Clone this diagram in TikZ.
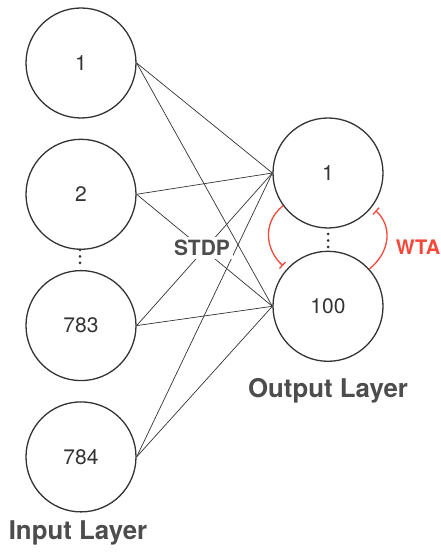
\documentclass[tikz,border=0pt]{standalone}
\usepackage{fontspec}
\setmainfont{TeX Gyre Heros}
\usetikzlibrary{arrows.meta,positioning}
\definecolor{wtared}{RGB}{245,72,58}
\definecolor{inkgray}{RGB}{77,77,77}
\tikzset{neuron/.style={draw=black!80, circle, line width=1.3pt, minimum size=110pt, inner sep=0pt, text=black!80, font=\fontsize{21}{24}\selectfont}}
\tikzset{layer label/.style={text=inkgray, font=\fontsize{25.8}{30}\selectfont\bfseries}}
\tikzset{synapse/.style={draw=black!80, line width=0.7pt}}
\tikzset{inhibit/.style={draw=wtared, line width=1.3pt, shorten >=5pt, -{Bar[width=9pt, line width=1.3pt]}}}

\begin{document}
\begin{tikzpicture}[x=1pt, y=1pt, node distance=20pt]
\useasboundingbox (0,0) rectangle (441,552);
% input layer
\node[neuron] (in1) at (81,489) {1};
\node[neuron, below=of in1] (in2) {2};
\node[neuron, below=of in2] (in3) {783};
\node[neuron, below=of in3] (in4) {784};
% output layer
\node[neuron] (out1) at (328,379) {1};
\node[neuron, below=22pt of out1] (out2) {100};
% all-to-all synapses
\foreach \i in {1,...,4}
  \foreach \j in {1,2}
    \draw[synapse] (in\i.east) -- (out\j.west);
\node[fill=white, inner sep=3pt, text=inkgray, font=\fontsize{21}{24}\selectfont\bfseries] (stdp) at (202,304) {STDP};
% dots
\foreach \y in {289,295.5,302}
  \fill[black!80] (80,\y) circle (1.5pt);
\foreach \y in {305,311.5,318}
  \fill[black!80] (328,\y) circle (1.5pt);
% lateral inhibition
\draw[inhibit] (out1.216) .. controls +(-22,-18) and +(-20,18) .. (out2.138);
\draw[inhibit] (out2.42) .. controls +(22,18) and +(20,-18) .. (out1.322);
\node[text=wtared, font=\fontsize{20}{22}\selectfont\bfseries] (wta) at (418,305) {WTA};
% labels
\node[layer label] (outlabel) at (328,161) {Output Layer};
\node[layer label] (inlabel) at (78,19) {Input Layer};
\end{tikzpicture}
\end{document}
